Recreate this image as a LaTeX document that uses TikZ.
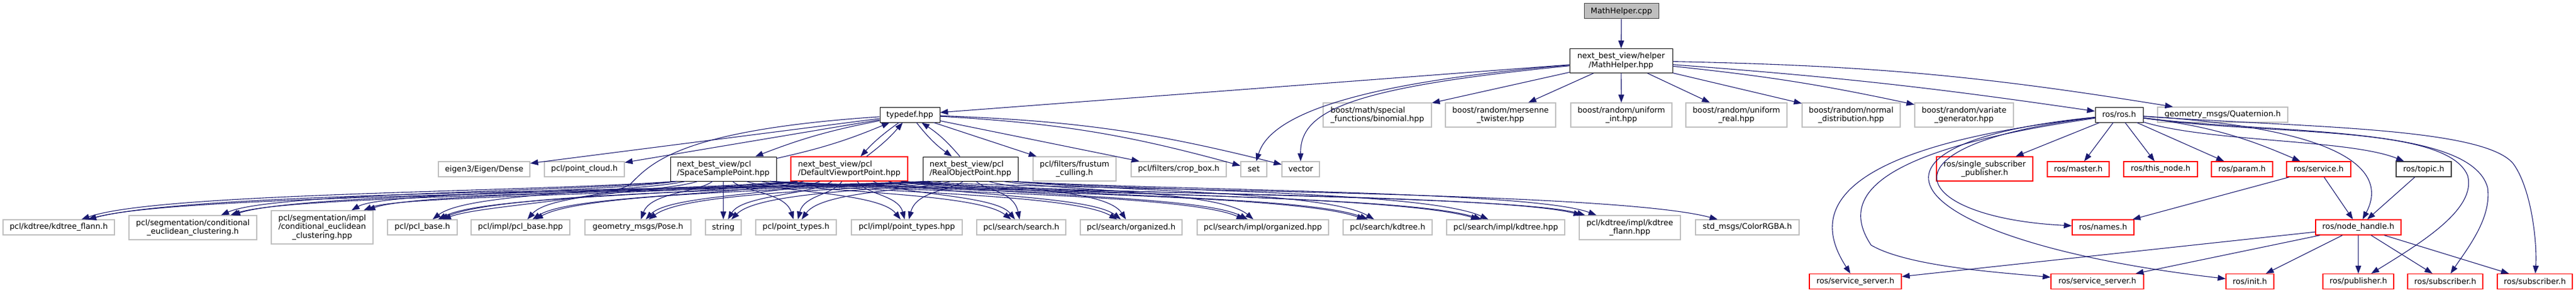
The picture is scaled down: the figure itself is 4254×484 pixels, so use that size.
\documentclass[tikz,border=0pt]{standalone}
\usepackage{fontspec}
\setmainfont{DejaVu Sans}
\usetikzlibrary{arrows.meta,calc}
\definecolor{edgec}{HTML}{191970}
\definecolor{grayb}{HTML}{BFBFBF}
\definecolor{darkb}{HTML}{404040}
\tikzset{
 box/.style={draw, line width=1pt, inner sep=0pt, align=center, fill=white,
   font=\fontsize{12.9}{14.5}\selectfont, text=black},
 gbox/.style={box, draw=grayb, line width=1.3pt},
 bbox/.style={box, draw=black},
 rbox/.style={box, draw=red, line width=1.3pt},
 edge/.style={draw=edgec, line width=1.1pt, -{Triangle[length=13pt,width=9.5pt]}},
 s1/.style={minimum height=25pt},
 s2/.style={minimum height=40pt},
 s3/.style={minimum height=55pt},
 w/.style={minimum width=#1pt},
}
\newcommand\dep[3]{%
  \path (#1.south); \pgfgetlastxy{\depsx}{\depsy}%
  \path (#2.north); \pgfgetlastxy{\deptx}{\depty}%
  \pgfmathsetmacro\depf{max(0.06,min(0.94,0.5+(\deptx-\depsx)/1400))}%
  \pgfmathsetmacro\depca{\depsx+0.3*(\deptx-\depsx)}%
  \pgfmathsetmacro\depcb{\depsx+0.85*(\deptx-\depsx)}%
  \draw[edge] ($(#1.south west)!\depf!(#1.south east)$) .. controls (\depca,#3) and (\depcb,#3) .. (#2);%
}
\begin{document}
\begin{tikzpicture}[x=1pt,y=-1pt]
\fill[white] (0,0) rectangle (4254,484);
\useasboundingbox (0,0) rectangle (4254,484);
% top
\node[box, draw=darkb, fill=grayb, s1, w=123] (cpp) at (2677.5,18.5) {MathHelper.cpp};
\node[bbox, s2, w=170] (mhh) at (2677,100.5) {next\_best\_view/helper\\/MathHelper.hpp};
% row 2
\node[bbox, s1, w=99] (typedef) at (1502.5,189.5) {typedef.hpp};
\node[gbox, s2, w=179, align=left] (binom) at (2274.5,190) {boost/math/special\\\_functions/binomial.hpp};
\node[gbox, s2, w=182] (mers) at (2478,190) {boost/random/mersenne\\\_twister.hpp};
\node[gbox, s2, w=167] (uint) at (2677.5,190) {boost/random/uniform\\\_int.hpp};
\node[gbox, s2, w=167] (ureal) at (2867.5,190) {boost/random/uniform\\\_real.hpp};
\node[gbox, s2, w=162] (normal) at (3057,190) {boost/random/normal\\\_distribution.hpp};
\node[gbox, s2, w=163] (variate) at (3243.5,190) {boost/random/variate\\\_generator.hpp};
\node[bbox, s1, w=79] (rosh) at (3499.5,189.5) {ros/ros.h};
\node[gbox, s1, w=215] (quat) at (3670.5,189.5) {geometry\_msgs/Quaternion.h};
% row 3
\node[gbox, s1, w=151] (eigen) at (799.5,279.5) {eigen3/Eigen/Dense};
\node[gbox, s1, w=132] (pcloud) at (965,279.5) {pcl/point\_cloud.h};
\node[bbox, s2, w=175, align=left] (ssp) at (1194.5,279) {next\_best\_view/pcl\\/SpaceSamplePoint.hpp};
\node[rbox, s2, w=193, align=left] (dvp) at (1402.5,279) {next\_best\_view/pcl\\/DefaultViewportPoint.hpp};
\node[bbox, s2, w=157, align=left] (rop) at (1602.5,279) {next\_best\_view/pcl\\/RealObjectPoint.hpp};
\node[gbox, s2, w=137] (frustum) at (1774.5,279) {pcl/filters/frustum\\\_culling.h};
\node[gbox, s1, w=157] (crop) at (1946.5,279.5) {pcl/filters/crop\_box.h};
\node[gbox, s1, w=43] (set) at (2070.5,279.5) {set};
\node[gbox, s1, w=62] (vector) at (2148,279.5) {vector};
\node[rbox, s2, w=159] (ssub) at (3277.5,279) {ros/single\_subscriber\\\_publisher.h};
\node[rbox, s1, w=102] (master) at (3432,279.5) {ros/master.h};
\node[rbox, s1, w=122] (thisnode) at (3568,279.5) {ros/this\_node.h};
\node[rbox, s1, w=101] (param) at (3702.5,279.5) {ros/param.h};
\node[rbox, s1, w=106] (service) at (3829,279.5) {ros/service.h};
\node[box, draw=darkb, line width=1.3pt, s1, w=91] (topic) at (4002.5,279.5) {ros/topic.h};
% row 4
\node[gbox, s1, w=184] (kdfl) at (97,375.5) {pcl/kdtree/kdtree\_flann.h};
\node[gbox, s2, w=211] (ceh) at (318.5,376) {pcl/segmentation/conditional\\\_euclidean\_clustering.h};
\node[gbox, s3, w=168] (cehpp) at (532,375.5) {pcl/segmentation/impl\\/conditional\_euclidean\\\_clustering.hpp};
\node[gbox, s1, w=115] (pclbase) at (697.5,375.5) {pcl/pcl\_base.h};
\node[gbox, s1, w=163] (pclbasehpp) at (859.5,375.5) {pcl/impl/pcl\_base.hpp};
\node[gbox, s1, w=175] (pose) at (1053.5,375.5) {geometry\_msgs/Pose.h};
\node[gbox, s1, w=59] (string) at (1194.5,375.5) {string};
\node[gbox, s1, w=133] (ptypes) at (1314.5,375.5) {pcl/point\_types.h};
\node[gbox, s1, w=183] (ptypeshpp) at (1497.5,375.5) {pcl/impl/point\_types.hpp};
\node[gbox, s1, w=147] (search) at (1686.5,375.5) {pcl/search/search.h};
\node[gbox, s1, w=168] (organized) at (1868,375.5) {pcl/search/organized.h};
\node[gbox, s1, w=217] (organizedhpp) at (2085.5,375.5) {pcl/search/impl/organized.hpp};
\node[gbox, s1, w=147] (kdtree) at (2291.5,375.5) {pcl/search/kdtree.h};
\node[gbox, s1, w=195] (kdtreehpp) at (2486.5,375.5) {pcl/search/impl/kdtree.hpp};
\node[gbox, s2, w=167] (kdflhpp) at (2691.5,376) {pcl/kdtree/impl/kdtree\\\_flann.hpp};
\node[gbox, s1, w=171] (color) at (2885.5,375.5) {std\_msgs/ColorRGBA.h};
\node[rbox, s1, w=102] (names) at (3473,375.5) {ros/names.h};
\node[rbox, s1, w=141] (nh) at (3894.5,375.5) {ros/node\_handle.h};
% row 5
\node[rbox, s1, w=152] (ss1) at (3064,465) {ros/service\_server.h};
\node[rbox, s1, w=153] (ss2) at (3463.5,465) {ros/service\_server.h};
\node[rbox, s1, w=79] (init) at (3715.5,465) {ros/init.h};
\node[rbox, s1, w=117] (pub) at (3894.5,465) {ros/publisher.h};
\node[rbox, s1, w=124] (sub1) at (4038,465) {ros/subscriber.h};
\node[rbox, s1, w=124] (sub2) at (4186,465) {ros/subscriber.h};
% edges from MathHelper
\draw[edge] (cpp) -- (mhh);
\draw[edge] (mhh) -- (typedef);
\draw[edge] (mhh) .. controls (2200,140) and (2095,200) .. (set);
\draw[edge] (mhh) .. controls (2220,145) and (2147,185) .. (vector);
\draw[edge] (mhh) -- (binom);
\draw[edge] (mhh) -- (mers);
\draw[edge] (mhh) -- (uint);
\draw[edge] (mhh) -- (ureal);
\draw[edge] (mhh) -- (normal);
\draw[edge] (mhh) to[bend left=3] (variate);
\draw[edge] (mhh) to[bend left=2] (rosh);
\draw[edge] (mhh) to[bend left=4] ($(quat.north west)!0.12!(quat.north east)$);
% edges from typedef
\draw[edge] (typedef) -- (eigen);
\draw[edge] (typedef) -- (pcloud);
\draw[edge] (typedef) to[bend right=5] (ssp);
\draw[edge] (ssp) to[bend right=5] (typedef);
\draw[edge] (typedef) to[bend right=6] (dvp);
\draw[edge] (dvp) to[bend right=6] (typedef);
\draw[edge] (typedef) to[bend right=8] (rop);
\draw[edge] (rop) to[bend right=8] (typedef);
\draw[edge] (typedef) -- (frustum);
\draw[edge] (typedef) -- (crop);
\draw[edge] (typedef) to[bend left=6] (set);
\draw[edge] (typedef) to[bend left=6] (vector);
\draw[edge] (typedef) .. controls (1120,215) and (1075,270) .. (1040,305) .. controls (1000,330) and (790,340) .. (pclbase);
% edges from point headers to pcl headers
\foreach \tg in {kdfl,ceh,cehpp,pclbase,pclbasehpp,pose,string,ptypes,ptypeshpp,search,organized,organizedhpp,kdtree,kdtreehpp,kdflhpp}{%
  \dep{ssp}{\tg}{318}
  \dep{dvp}{\tg}{322}
  \dep{rop}{\tg}{315}
}
\dep{dvp}{color}{316}
% ros edges
\draw[edge] (rosh) -- (ssub);
\draw[edge] (rosh) -- (master);
\draw[edge] (rosh) -- (thisnode);
\draw[edge] (rosh) -- (param);
\draw[edge] (rosh) to[bend left=8] (service);
\draw[edge] (rosh) .. controls (3650,235) and (3880,230) .. (topic);
\draw[edge] (rosh) .. controls (3920,215) and (3935,300) .. (nh);
\draw[edge] (rosh) .. controls (3750,225) and (4040,205) .. (4075,290) .. controls (4090,345) and (4000,400) .. (pub);
\draw[edge] (rosh) .. controls (3750,222) and (4080,205) .. (4108,310) .. controls (4115,360) and (4075,410) .. (sub1);
\draw[edge] (rosh) .. controls (3800,210) and (4100,210) .. (4150,270) .. controls (4180,310) and (4190,400) .. (sub2);
\draw[edge] (rosh) .. controls (3080,240) and (3160,360) .. (names);
\draw[edge] (rosh) .. controls (3000,240) and (3150,400) .. (init);
\draw[edge] (rosh) .. controls (2960,250) and (3010,380) .. (ss1);
\draw[edge] (rosh) .. controls (3080,250) and (3040,330) .. (3090,405) .. controls (3150,440) and (3300,450) .. (ss2);
\draw[edge] (service) -- (names);
\draw[edge] (service) -- (nh);
\draw[edge] (topic) -- (nh);
\draw[edge] (nh) -- (ss1);
\draw[edge] (nh) -- (ss2);
\draw[edge] (nh) -- (init);
\draw[edge] (nh) -- (pub);
\draw[edge] (nh) -- (sub1);
\draw[edge] (nh) -- (sub2);
\end{tikzpicture}
\end{document}
